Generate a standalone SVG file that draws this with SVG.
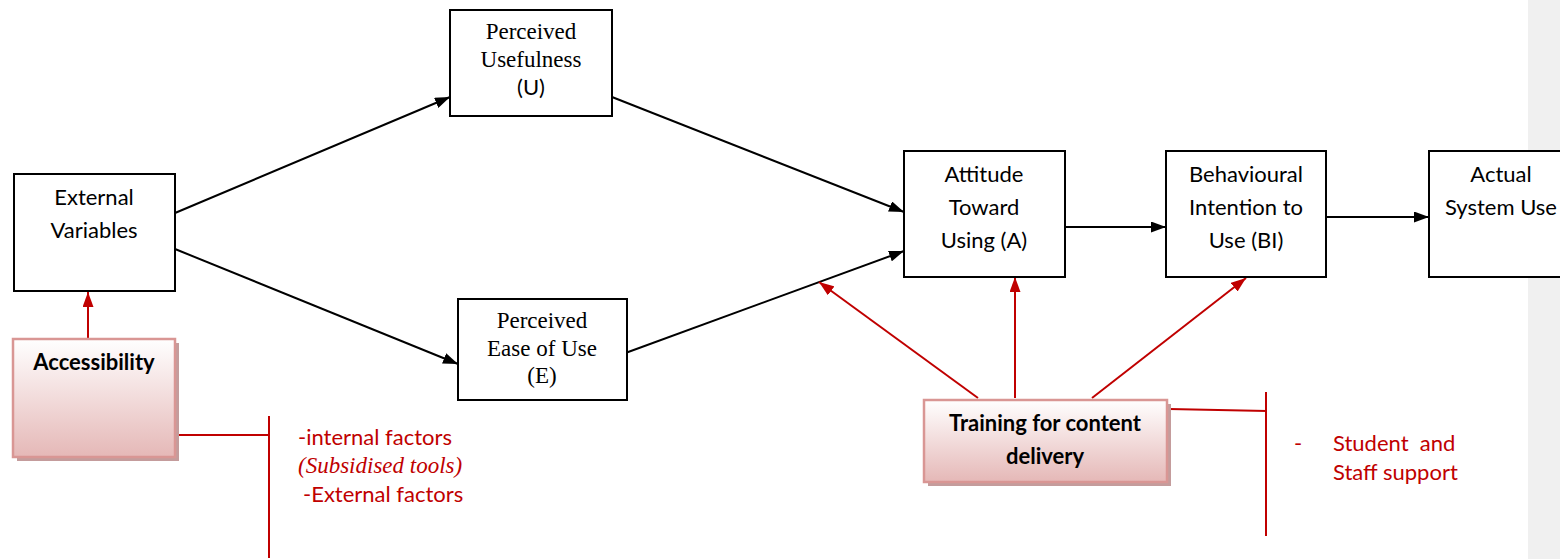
<svg xmlns="http://www.w3.org/2000/svg" width="1560" height="559" viewBox="0 0 1560 559">
  <style>
    .box { fill: #ffffff; stroke: #000000; stroke-width: 2; }
    .hl { fill: url(#pinkGrad); stroke: #d99694; stroke-width: 2.5; }
    .shadow { fill: #c49c9c; }
    .sans { font-family: Lato, "Liberation Sans", sans-serif; font-size: 22px; fill: #000000; text-anchor: middle; }
    .serif { font-family: "Liberation Serif", serif; font-size: 23px; fill: #000000; text-anchor: middle; }
    .bold { font-family: Lato, "Liberation Sans", sans-serif; font-size: 22px; font-weight: bold; fill: #000000; text-anchor: middle; }
    .note { font-family: Lato, "Liberation Sans", sans-serif; font-size: 22px; fill: #c00000; }
    .noteItalic { font-family: "Liberation Serif", serif; font-size: 23px; font-style: italic; fill: #c00000; }
    .blk { stroke: #000000; stroke-width: 2; fill: none; }
    .red { stroke: #c00000; stroke-width: 2; fill: none; }
  </style>
  <defs>
    <linearGradient id="pinkGrad" x1="0" y1="0" x2="0" y2="1">
      <stop offset="0" stop-color="#ffffff"/>
      <stop offset="1" stop-color="#e5b8b7"/>
    </linearGradient>
    <marker id="arrowBlack" markerUnits="userSpaceOnUse" markerWidth="15" markerHeight="11" refX="15" refY="5.5" orient="auto">
      <path d="M0,0 L15,5.5 L0,11 z" fill="#000000"/>
    </marker>
    <marker id="arrowRed" markerUnits="userSpaceOnUse" markerWidth="15" markerHeight="11" refX="15" refY="5.5" orient="auto">
      <path d="M0,0 L15,5.5 L0,11 z" fill="#c00000"/>
    </marker>
  </defs>

  <rect width="1560" height="559" fill="#ffffff"/>
  <!-- side margin panel -->
  <rect x="1528" y="0" width="32" height="559" fill="#f0f0f0"/>

  <!-- connectors -->
  <g id="connectors">
    <line class="blk" x1="175" y1="213" x2="450" y2="97" marker-end="url(#arrowBlack)"/>
    <line class="blk" x1="175" y1="249" x2="458" y2="364" marker-end="url(#arrowBlack)"/>
    <line class="blk" x1="612" y1="97" x2="904" y2="212" marker-end="url(#arrowBlack)"/>
    <line class="blk" x1="620" y1="355" x2="904" y2="251" marker-end="url(#arrowBlack)"/>
    <line class="blk" x1="1065" y1="227" x2="1166" y2="227" marker-end="url(#arrowBlack)"/>
    <line class="blk" x1="1326" y1="217" x2="1429" y2="217" marker-end="url(#arrowBlack)"/>

    <line class="red" x1="88" y1="339" x2="88" y2="292" marker-end="url(#arrowRed)"/>
    <line class="red" x1="978" y1="398" x2="819" y2="282" marker-end="url(#arrowRed)"/>
    <line class="red" x1="1015" y1="398" x2="1015" y2="277" marker-end="url(#arrowRed)"/>
    <line class="red" x1="1092" y1="398" x2="1246" y2="278" marker-end="url(#arrowRed)"/>

    <!-- bracket lines to notes -->
    <line class="red" x1="178" y1="435" x2="269" y2="435"/>
    <line class="red" x1="269" y1="416" x2="269" y2="558"/>
    <line class="red" x1="1169" y1="409" x2="1267" y2="411"/>
    <line class="red" x1="1266" y1="392" x2="1266" y2="536"/>
  </g>

  <g id="external-variables">
    <rect class="box" x="14" y="174" width="161" height="117"/>
    <text class="sans" x="94" y="205">External</text>
    <text class="sans" x="94" y="238">Variables</text>
  </g>

  <g id="perceived-usefulness">
    <rect class="box" x="450" y="10" width="162" height="106"/>
    <text class="serif" x="531" y="39">Perceived</text>
    <text class="serif" x="531" y="67">Usefulness</text>
    <text class="sans" x="531" y="95">(U)</text>
  </g>

  <g id="perceived-ease-of-use">
    <rect class="box" x="458" y="299" width="169" height="101"/>
    <text class="serif" x="542" y="328">Perceived</text>
    <text class="serif" x="542" y="356">Ease of Use</text>
    <text class="serif" x="542" y="383">(E)</text>
  </g>

  <g id="attitude">
    <rect class="box" x="904" y="151" width="161" height="126"/>
    <text class="sans" x="984" y="182">Attitude</text>
    <text class="sans" x="984" y="215">Toward</text>
    <text class="sans" x="984" y="248">Using (A)</text>
  </g>

  <g id="behavioural-intention">
    <rect class="box" x="1166" y="151" width="160" height="126"/>
    <text class="sans" x="1246" y="182">Behavioural</text>
    <text class="sans" x="1246" y="215">Intention to</text>
    <text class="sans" x="1246" y="248">Use (BI)</text>
  </g>

  <g id="actual-system-use">
    <rect class="box" x="1429" y="151" width="140" height="126"/>
    <text class="sans" x="1501" y="182">Actual</text>
    <text class="sans" x="1501" y="215">System Use</text>
  </g>

  <g id="accessibility">
    <rect class="shadow" x="17" y="343" width="162" height="118"/>
    <rect class="hl" x="13" y="339" width="162" height="118"/>
    <text class="bold" x="94" y="370">Accessibility</text>
  </g>

  <g id="training">
    <rect class="shadow" x="928" y="404" width="243" height="82"/>
    <rect class="hl" x="924" y="400" width="243" height="82"/>
    <text class="bold" x="1045" y="431">Training for content</text>
    <text class="bold" x="1045" y="464">delivery</text>
  </g>

  <g id="accessibility-notes">
    <text class="note" x="298" y="445">-internal factors</text>
    <text class="noteItalic" x="298" y="473">(Subsidised tools)</text>
    <text class="note" x="303" y="502">-External factors</text>
  </g>

  <g id="training-notes">
    <text class="note" x="1294" y="451">-</text>
    <text class="note" x="1333" y="451" xml:space="preserve">Student  and</text>
    <text class="note" x="1333" y="480">Staff support</text>
  </g>
</svg>
